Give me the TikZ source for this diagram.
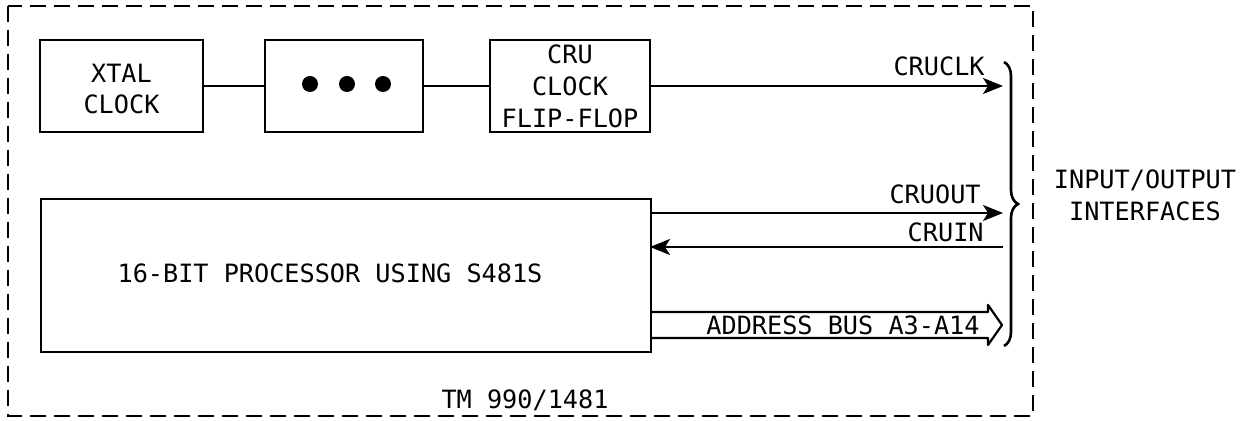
\documentclass[tikz,border=0pt]{standalone}
\usepackage{fontspec}
\setmainfont{DejaVu Sans Mono}
\usetikzlibrary{arrows.meta,decorations.pathreplacing}
\begin{document}
\begin{tikzpicture}[x=0.5pt,y=-0.5pt,
  txt/.style={font=\fontsize{12.6}{16}\selectfont, inner sep=0pt, align=center},
  blk/.style={draw, line width=1.4pt, inner sep=0pt},
  wire/.style={line width=1.1pt},
  arr/.style={wire, -{Stealth[length=10pt,width=8pt,inset=2.5pt]}},
  frame/.style={draw, line width=1.3pt, dash pattern=on 8pt off 4pt}
]
\useasboundingbox (0,0) rectangle (1254,421);
% outer dashed frame
\draw[frame] (8,6) rectangle (1033,416);
% top row
\node[blk, minimum width=81.5pt, minimum height=46pt] (xtal) at (121.5,86) {};
\node[txt] (xtaltxt) at (121.5,89) {XTAL\\CLOCK};
\node[blk, minimum width=79pt, minimum height=46pt] (dots) at (344,86) {};
\fill (310,84) circle (4pt);
\fill (347,84) circle (4pt);
\fill (383,84) circle (4pt);
\node[blk, minimum width=80pt, minimum height=46pt] (cru) at (570,86) {};
\node[txt] (crutxt) at (570,86) {CRU\\CLOCK\\FLIP-FLOP};
\draw[wire] (xtal.east) -- (dots.west);
\draw[wire] (dots.east) -- (cru.west);
\coordinate (clkend) at (1003,86);
\draw[arr] (cru.east) -- (clkend);
\node[txt, anchor=east] (cruclk) at (985,66) {CRUCLK};
% processor
\node[blk, minimum width=305pt, minimum height=76.5pt] (proc) at (346,275.5) {};
\node[txt] (proctxt) at (330,273) {16-BIT PROCESSOR USING S481S};
\coordinate (outs) at (650,213);
\coordinate (oute) at (1003,213);
\draw[arr] (outs) -- (oute);
\node[txt, anchor=east] (cruout) at (981,194) {CRUOUT};
\coordinate (ins) at (1003,247);
\coordinate (ine) at (650,247);
\draw[arr] (ins) -- (ine);
\node[txt, anchor=east] (cruin) at (984,232) {CRUIN};
% address bus
\draw[wire, line join=round] (650,312) -- (988,312) -- (988,305) -- (1002,325) -- (988,345) -- (988,338) -- (650,338);
\node[txt] (addr) at (843,325) {ADDRESS BUS A3-A14};
% brace
\draw[line width=1.3pt, decorate, decoration={brace, amplitude=7pt, aspect=0.5}] (1004,62) -- (1004,346);
\node[txt] (io) at (1145,195) {INPUT/OUTPUT\\INTERFACES};
\node[txt] (tm) at (525,400) {TM 990/1481};
\end{tikzpicture}
\end{document}
